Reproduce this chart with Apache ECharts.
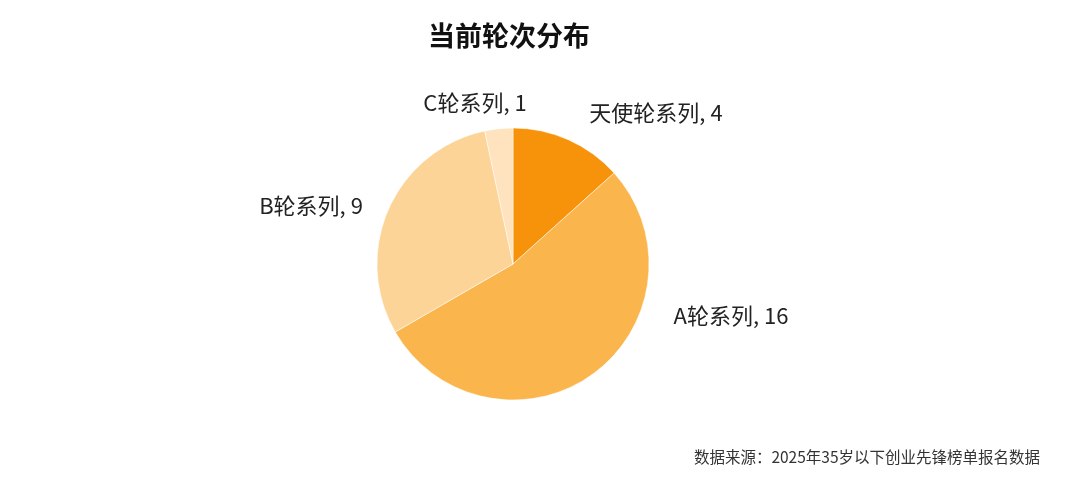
<!DOCTYPE html>
<html><head><meta charset="utf-8">
<script src="https://cdn.jsdelivr.net/npm/echarts@6/dist/echarts.min.js"></script>
<style>html,body{margin:0;padding:0;background:#fff}#c{width:1080px;height:498px}</style>
</head><body><div id="c"></div>
<script>
const categories = ['天使轮系列', 'A轮系列', 'B轮系列', 'C轮系列'];
const values = [4, 16, 9, 1];
const colors = ['#F7930A', '#FBB54D', '#FDD497', '#FEE3BE'];
const labelPos = [[656, 113], [731, 316], [311, 206], [475, 103]];
const font = '"Noto Sans CJK SC", "Noto Sans", sans-serif';
const chart = echarts.init(document.getElementById('c'));
chart.setOption({
  animation: false,
  title: [{
    text: '当前轮次分布', left: 504, top: 31, textAlign: 'center', textVerticalAlign: 'middle',
    textStyle: { fontFamily: font, fontSize: 27, fontWeight: 'bold', color: '#111' }
  }, {
    text: '数据来源：2025年35岁以下创业先锋榜单报名数据', right: 35, top: 444,
    textStyle: { fontFamily: font, fontSize: 15.5, fontWeight: 'normal', color: '#333' }
  }],
  series: [{
    type: 'pie',
    center: [513, 264],
    radius: 136,
    startAngle: 90,
    clockwise: true,
    data: categories.map((n, i) => ({ name: n, value: values[i], itemStyle: { color: colors[i] } })),
    itemStyle: { borderColor: '#fff', borderWidth: 0.5 },
    label: {
      show: true, position: 'outside', formatter: '{b}, {c}',
      fontFamily: font, fontSize: 22, color: '#222'
    },
    labelLine: { show: false },
    labelLayout: function (p) {
      const pos = labelPos[p.dataIndex];
      return { x: pos[0], y: pos[1], align: 'center', verticalAlign: 'middle' };
    }
  }]
});
</script></body></html>
